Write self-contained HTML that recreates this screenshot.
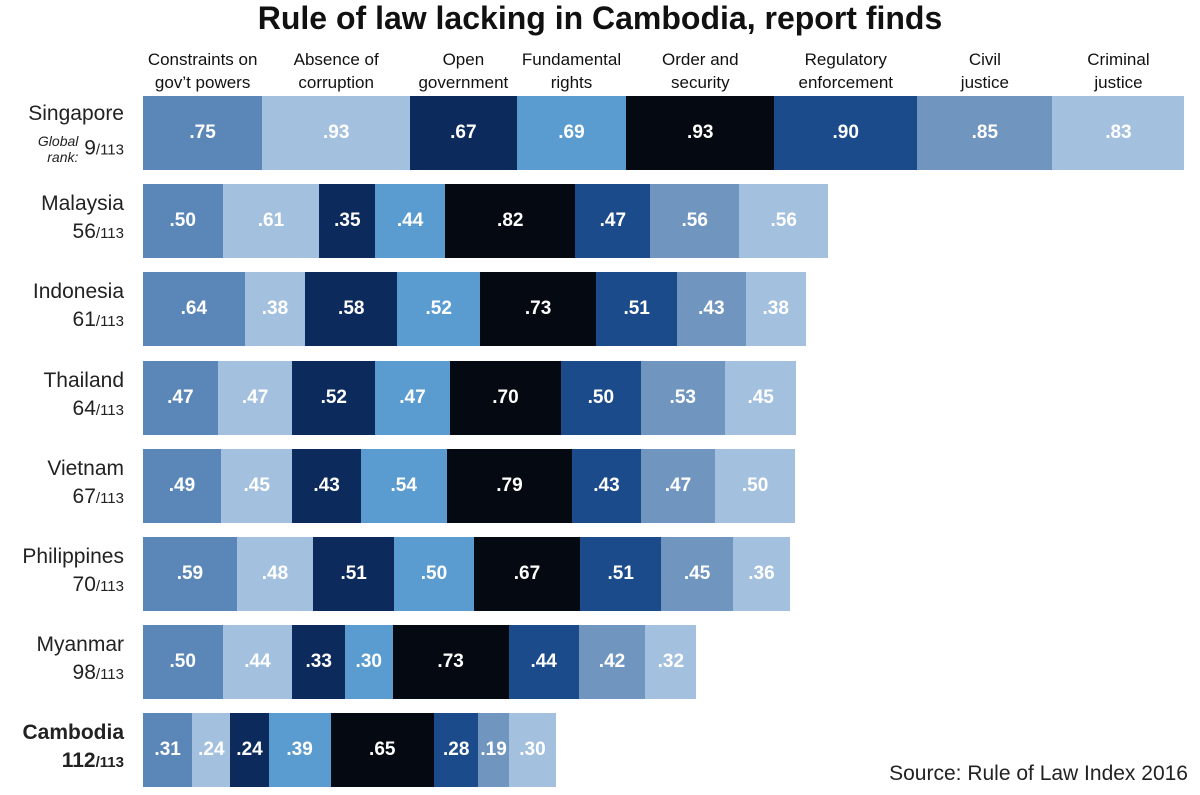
<!DOCTYPE html>
<html><head><meta charset="utf-8"><style>
body{margin:0;width:1200px;height:795px;background:#fff;font-family:"Liberation Sans",sans-serif;position:relative;overflow:hidden}
.t{position:absolute;top:0px;left:0;width:1200px;text-align:center;font-weight:bold;font-size:32px;color:#111}
.t span{display:inline-block;transform:scaleX(1.0)}
.h{position:absolute;top:48px;text-align:center;font-size:17px;line-height:23px;color:#111;white-space:nowrap}
.row{position:absolute;left:143px;height:74px;display:flex}
.seg{height:100%;display:flex;align-items:center;justify-content:center;color:#fff;font-size:19px;font-weight:bold}
.lab{position:absolute;right:1076px;text-align:right;font-size:21px;line-height:28px;color:#222;white-space:nowrap}
.lab small{font-size:15px}
.src{position:absolute;right:12px;top:762px;font-size:21px;color:#222}
</style></head><body>
<div class="t"><span>Rule of law lacking in Cambodia, report finds</span></div>
<div id="c"></div>
<div class="src">Source: Rule of Law Index 2016</div>
<script>
const cols=["#5b87b8","#a3c1de","#0d2a5c","#5a9bd0","#050a12","#1c4b8c","#7096c0","#a3c1de"];
const heads=["Constraints on<br>gov’t powers","Absence of<br>corruption","Open<br>government","Fundamental<br>rights","Order and<br>security","Regulatory<br>enforcement","Civil<br>justice","Criminal<br>justice"];
const data=[["Singapore","9",[.75,.93,.67,.69,.93,.90,.85,.83]],
["Malaysia","56",[.50,.61,.35,.44,.82,.47,.56,.56]],
["Indonesia","61",[.64,.38,.58,.52,.73,.51,.43,.38]],
["Thailand","64",[.47,.47,.52,.47,.70,.50,.53,.45]],
["Vietnam","67",[.49,.45,.43,.54,.79,.43,.47,.50]],
["Philippines","70",[.59,.48,.51,.50,.67,.51,.45,.36]],
["Myanmar","98",[.50,.44,.33,.30,.73,.44,.42,.32]],
["Cambodia","112",[.31,.24,.24,.39,.65,.28,.19,.30]]];
const S=159,c=document.getElementById('c');let h="";
data.forEach((d,i)=>{const top=96+i*88.2;
h+=`<div class="row" style="top:${top}px">`;
d[2].forEach((v,j)=>{h+=`<div class="seg" style="width:${v*S}px;background:${cols[j]}">${v.toFixed(2).slice(1)}</div>`});
h+=`</div>`;
const b=i==7?"font-weight:bold;":"";
if(i==0){h+=`<div class="lab" style="top:${top+4}px">Singapore</div><div class="lab" style="top:${top+37}px"><i style="font-size:14px;display:inline-block;line-height:16px;vertical-align:middle;text-align:right">Global<br>rank:</i> 9<small>/113</small></div>`}
else h+=`<div class="lab" style="top:${top+6}px;${b}">${d[0]}<br>${d[1]}<small>/113</small></div>`;
});
let x=143;data[0][2].forEach((v,j)=>{const w=v*S;h+=`<div class="h" style="left:${x-20}px;width:${w+40}px">${heads[j]}</div>`;x+=w});
c.innerHTML=h;
</script>
</body></html>
